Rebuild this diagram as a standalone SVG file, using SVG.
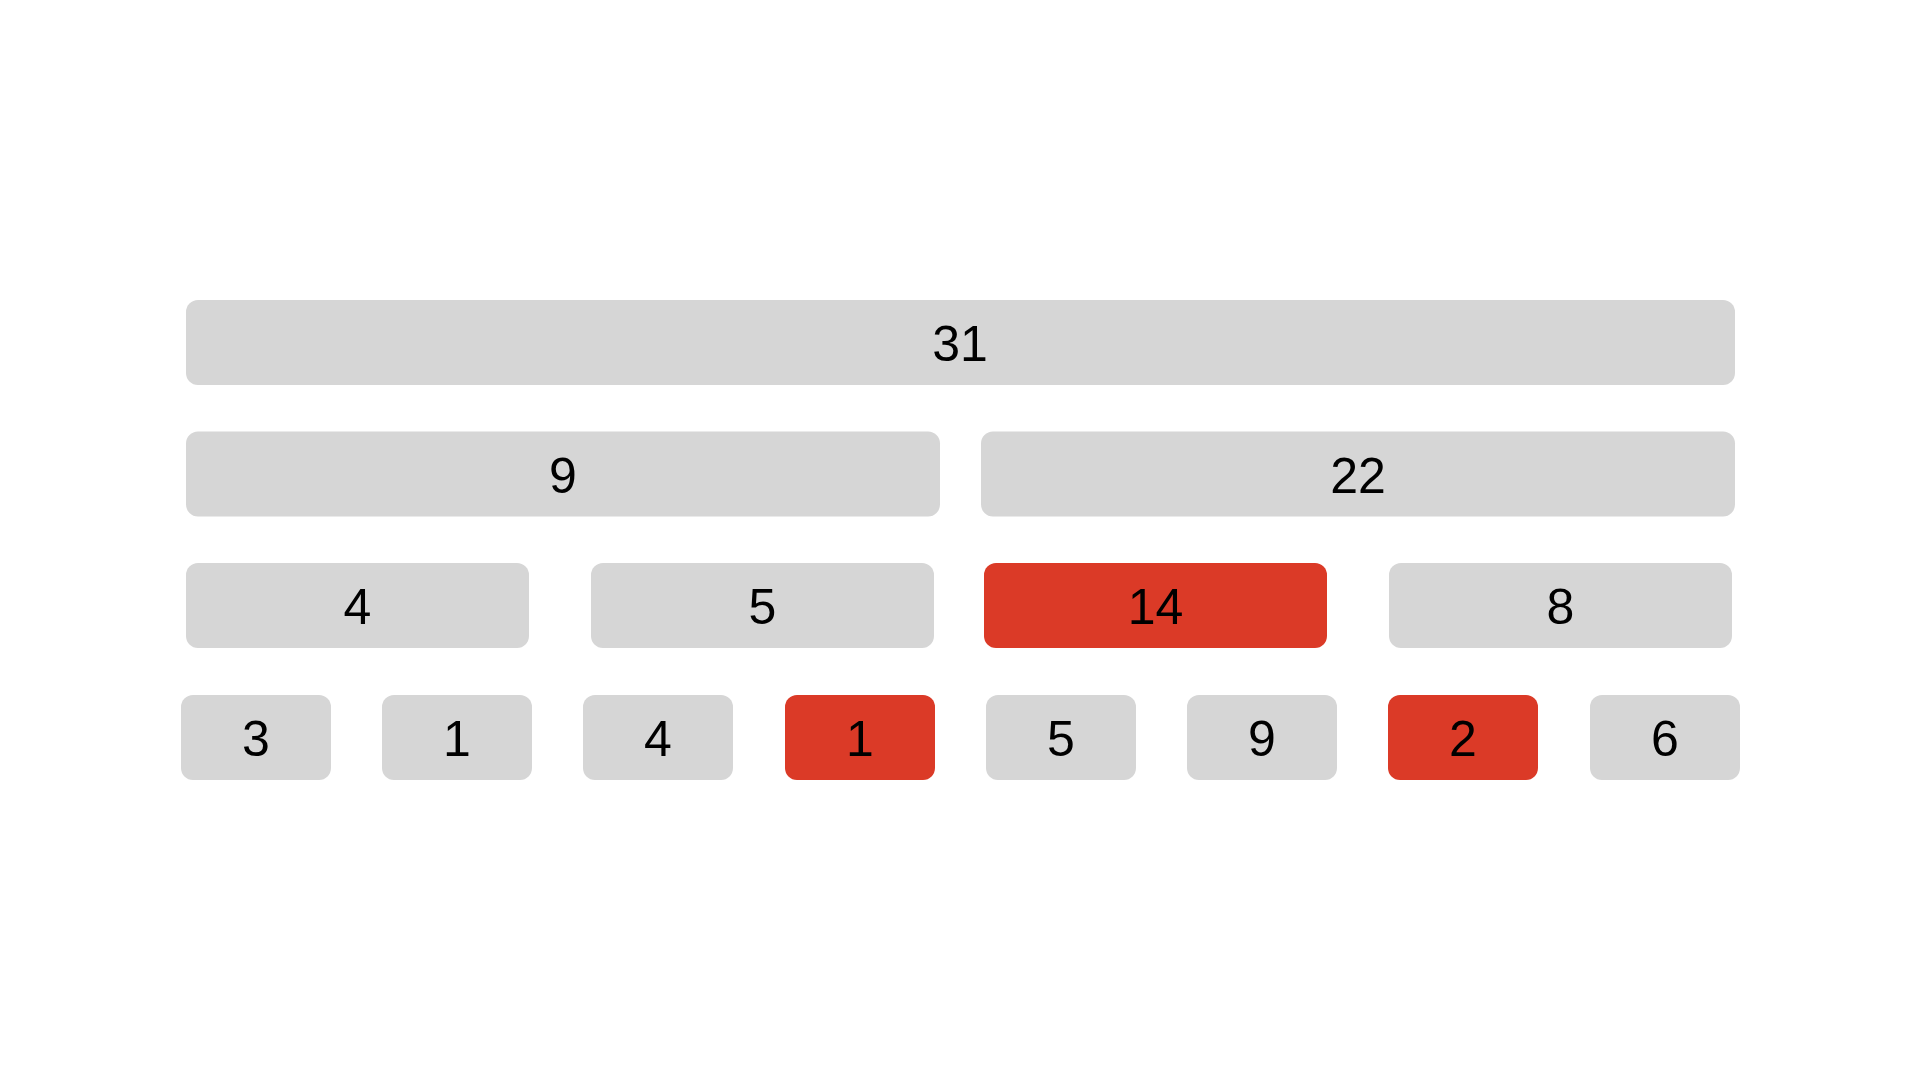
<svg xmlns="http://www.w3.org/2000/svg" width="1920" height="1080" viewBox="0 0 1920 1080">
<style>
.g{fill:#d6d6d6}
.r{fill:#db3a27}
text{font-family:"Liberation Sans",Arial,Helvetica,sans-serif;font-size:50px;fill:#000;text-anchor:middle}
</style>
<rect width="1920" height="1080" fill="#ffffff"/>
<g id="connectors"></g>
<g id="n31"><rect class="g" x="186" y="300" width="1549" height="85" rx="12"/><text x="960" y="361">31</text></g>
<g id="n9"><rect class="g" x="186" y="431.5" width="754" height="85" rx="12"/><text x="563" y="492.5">9</text></g>
<g id="n22"><rect class="g" x="981" y="431.5" width="754" height="85" rx="12"/><text x="1358" y="492.5">22</text></g>
<g id="n4a"><rect class="g" x="186" y="563" width="343" height="85" rx="12"/><text x="357.5" y="624">4</text></g>
<g id="n5a"><rect class="g" x="591" y="563" width="343" height="85" rx="12"/><text x="762.5" y="624">5</text></g>
<g id="n14"><rect class="r" x="984" y="563" width="343" height="85" rx="12"/><text x="1155.5" y="624">14</text></g>
<g id="n8"><rect class="g" x="1389" y="563" width="343" height="85" rx="12"/><text x="1560.5" y="624">8</text></g>
<g id="n3"><rect class="g" x="181" y="695" width="150" height="85" rx="12"/><text x="256" y="756">3</text></g>
<g id="n1a"><rect class="g" x="382" y="695" width="150" height="85" rx="12"/><text x="457" y="756">1</text></g>
<g id="n4b"><rect class="g" x="583" y="695" width="150" height="85" rx="12"/><text x="658" y="756">4</text></g>
<g id="n1b"><rect class="r" x="785" y="695" width="150" height="85" rx="12"/><text x="860" y="756">1</text></g>
<g id="n5b"><rect class="g" x="986" y="695" width="150" height="85" rx="12"/><text x="1061" y="756">5</text></g>
<g id="n9b"><rect class="g" x="1187" y="695" width="150" height="85" rx="12"/><text x="1262" y="756">9</text></g>
<g id="n2"><rect class="r" x="1388" y="695" width="150" height="85" rx="12"/><text x="1463" y="756">2</text></g>
<g id="n6"><rect class="g" x="1590" y="695" width="150" height="85" rx="12"/><text x="1665" y="756">6</text></g>
</svg>
